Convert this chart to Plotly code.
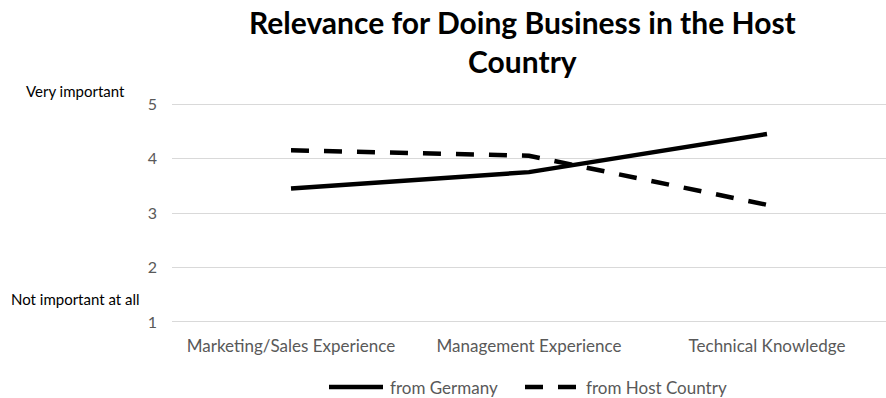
import plotly.graph_objects as go

categories = ["Marketing/Sales Experience", "Management Experience", "Technical Knowledge"]
from_germany = [3.45, 3.75, 4.45]
from_host_country = [4.15, 4.05, 3.15]
y_ticks = [1, 2, 3, 4, 5]
series_names = ["from Germany", "from Host Country"]

FONT = "Lato"
GRAY = "#595959"
SOLID = "solid"
DASHED = "18px,15px"

# plot area in pixels: left 172, right 886, top 102, bottom 324
L, R, T, B = 172, 886, 102, 324
Y_PAD = 0.037  # small padding so the 1 and 5 gridlines stay inside the plot


def px_x(px):
    return (px - L) / (R - L)


def px_y(py):
    return (B - py) / (B - T)


fig = go.Figure()
fig.add_trace(go.Scatter(
    x=categories, y=from_germany, name=series_names[0], mode="lines",
    line=dict(color="black", width=4.5, dash=SOLID),
))
fig.add_trace(go.Scatter(
    x=categories, y=from_host_country, name=series_names[1], mode="lines",
    line=dict(color="black", width=4.5, dash=DASHED),
))

fig.update_layout(
    width=886, height=398,
    margin=dict(l=L, r=886 - R, t=T, b=398 - B),
    paper_bgcolor="white", plot_bgcolor="white",
    font=dict(family=FONT, size=15, color=GRAY),
    showlegend=False,
    xaxis=dict(
        type="category", range=[-0.5, 2.5], showgrid=False, zeroline=False,
        showline=False, ticks="", ticklabelstandoff=10,
        tickfont=dict(size=17, color=GRAY),
    ),
    yaxis=dict(
        range=[y_ticks[0] - Y_PAD, y_ticks[-1] + Y_PAD], tickvals=y_ticks,
        showgrid=True, gridcolor="#d9d9d9",
        gridwidth=1, zeroline=False, showline=False, ticks="",
        ticklabelstandoff=14, tickfont=dict(size=16, color=GRAY),
    ),
)

# chart title
fig.add_annotation(
    text="<b>Relevance for Doing Business in the Host<br>Country</b>",
    xref="paper", yref="paper", x=px_x(522), y=px_y(41.5),
    showarrow=False, xanchor="center", yanchor="middle", align="center",
    font=dict(family=FONT, size=30, color="black"),
)

# scale anchors on the left
fig.add_annotation(
    text="Very important", xref="paper", yref="paper", x=px_x(75), y=px_y(91),
    showarrow=False, xanchor="center", yanchor="middle",
    font=dict(family=FONT, size=15, color="black"),
)
fig.add_annotation(
    text="Not important at all", xref="paper", yref="paper", x=px_x(75), y=px_y(299),
    showarrow=False, xanchor="center", yanchor="middle",
    font=dict(family=FONT, size=15, color="black"),
)

# legend row below the axis
legend_y = px_y(387)
legend_items = [
    (series_names[0], SOLID, 329, 383, 388),
    (series_names[1], DASHED, 525, 577, 584),
]
for name, dash, x0, x1, tx in legend_items:
    fig.add_shape(
        type="line", xref="paper", yref="paper",
        x0=px_x(x0), x1=px_x(x1), y0=legend_y, y1=legend_y,
        line=dict(color="black", width=4.5, dash=dash),
    )
    fig.add_annotation(
        text=name, xref="paper", yref="paper", x=px_x(tx), y=legend_y,
        showarrow=False, xanchor="left", yanchor="middle",
        font=dict(family=FONT, size=17, color=GRAY),
    )

fig.write_html("out.html")
